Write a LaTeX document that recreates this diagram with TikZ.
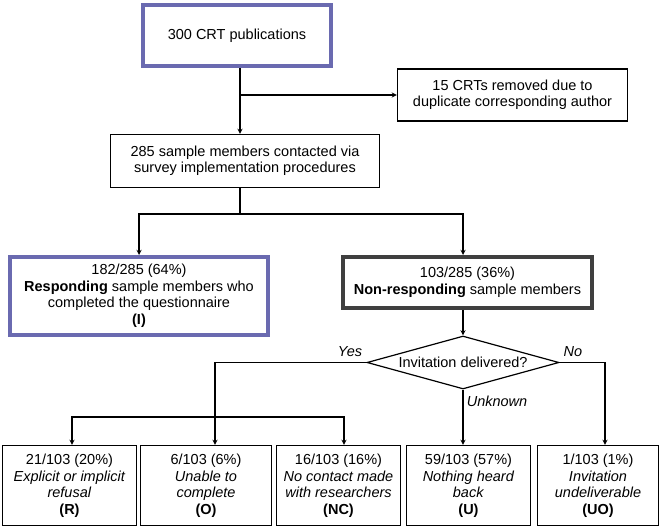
\documentclass[tikz,border=0pt]{standalone}
\usepackage{fontspec}
\setmainfont{Liberation Sans}
\usetikzlibrary{shapes.geometric,calc,positioning}
\definecolor{crtblue}{HTML}{6A6AB0}
\definecolor{nrgray}{HTML}{3F3F3F}

\begin{document}
\begin{tikzpicture}[x=1pt,y=-1pt,>=stealth,line width=1.3pt,
  box/.style = {draw, line width=1.2pt, align=center, inner sep=1pt, font=\fontsize{14.5}{16.5}\selectfont},
  bluebox/.style = {box, draw=crtblue, line width=4pt},
  graybox/.style = {box, draw=nrgray, line width=4pt},
  decision/.style = {draw, line width=1.2pt, diamond, aspect=3.6, inner sep=0pt, font=\fontsize{14.5}{16.5}\selectfont},
  branch/.style = {font=\fontsize{14.5}{16.5}\selectfont\itshape, inner sep=0pt},]
\useasboundingbox (0,0) rectangle (661,529);
% upper part
\node (pubs) at (237,35.5)[bluebox,minimum width=188pt,minimum height=61pt] {300 CRT publications};
\node (removed) at (512.5,95)[box,minimum width=230pt,minimum height=52pt] {15 CRTs removed due to\\duplicate corresponding author};
\node (contacted) at (245,161)[box,minimum width=269pt,minimum height=53pt] {285 sample members contacted via\\survey implementation procedures};
\node (resp) at (139,296)[bluebox,minimum width=258pt,minimum height=78pt] {182/285 (64\%)\\\textbf{Responding} sample members who\\completed the questionnaire\\\textbf{(I)}};
\node (nonresp) at (467.5,282.5)[graybox,minimum width=249pt,minimum height=51pt] {103/285 (36\%)\\\textbf{Non-responding} sample members};
\node (dec) at (463,362.5)[decision,minimum width=192pt,minimum height=53pt] {Invitation delivered?};
% outcome boxes
\node (r) at (69.5,485.5)[box,minimum width=134pt,minimum height=80pt] {21/103 (20\%)\\\textit{Explicit or implicit}\\\textit{refusal}\\\textbf{(R)}};
\node (o) at (206,485.5)[box,minimum width=131pt,minimum height=80pt] {6/103 (6\%)\\\textit{Unable to}\\\textit{complete}\\\textbf{(O)}};
\node (nc) at (338.5,485.5)[box,minimum width=124pt,minimum height=80pt] {16/103 (16\%)\\\textit{No contact made}\\\textit{with researchers}\\\textbf{(NC)}};
\node (u) at (468.5,485.5)[box,minimum width=124pt,minimum height=80pt] {59/103 (57\%)\\\textit{Nothing heard}\\\textit{back}\\\textbf{(U)}};
\node (uo) at (598,485.5)[box,minimum width=121pt,minimum height=80pt] {1/103 (1\%)\\\textit{Invitation}\\\textit{undeliverable}\\\textbf{(UO)}};
% branch labels
\node (yes) at (350,352)[branch] {Yes};
\node (no) at (573,352)[branch] {No};
\node (unknown) at (497,401)[branch] {Unknown};
% connectors
\coordinate (dup) at (240,95);
\coordinate (split) at (240,214);
\coordinate (fork) at (215,417);
\draw[->] (dup |- pubs.south) -- (dup |- contacted.north);
\draw[->] (dup) -- (removed.west);
\draw (split |- contacted.south) -- (split);
\draw[->] (split) -| (resp.north);
\draw[->] (split) -| (dec.north |- nonresp.north);
\draw[->] (dec.north |- nonresp.south) -- (dec.north);
\draw[->] (dec.west) -| ([xshift=9pt]o.north);
\draw[<->] ([xshift=2.5pt]r.north) |- (fork) -| ([xshift=5.5pt]nc.north);
\draw[->] (dec.south) -- (dec.south |- u.north);
\draw[->] (dec.east) -| ([xshift=7pt]uo.north);
\end{tikzpicture}
\end{document}
